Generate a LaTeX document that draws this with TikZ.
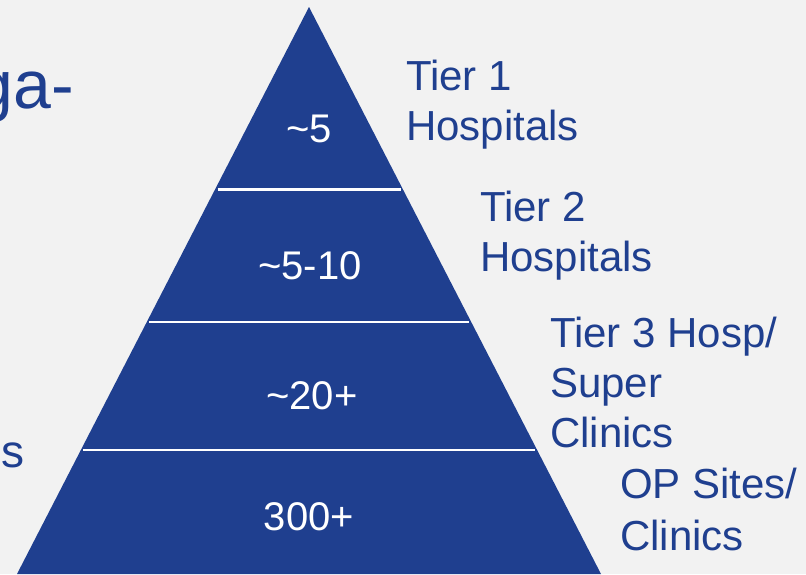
\documentclass[tikz,border=0pt]{standalone}
\usepackage{fontspec}
\setmainfont{Liberation Sans}
\definecolor{pyr}{HTML}{1F3F8F}
\definecolor{bg}{HTML}{F2F2F2}
\begin{document}
\begin{tikzpicture}[x=1pt,y=-1pt,
  lbl/.style={text=pyr, font=\fontsize{42}{50}\selectfont, inner sep=0pt, anchor=base west, align=left},
  num/.style={text=white, font=\fontsize{40}{46}\selectfont, inner sep=0pt, anchor=base},
  sepline/.style={draw=white, line width=2.5pt}]
\useasboundingbox (0,0) rectangle (806,574);
\clip (0,0) rectangle (806,574);
\fill[bg] (0,0) rectangle (806,574);
% pyramid
\coordinate (apex) at (309,7);
\coordinate (bl) at (17,574);
\coordinate (br) at (601,574);
\fill[pyr] (apex) -- (br) -- (bl) -- cycle;
% separators
\coordinate (s1l) at (217.5,189.5); \coordinate (s1r) at (400.5,189.5);
\coordinate (s2l) at (149,322);     \coordinate (s2r) at (469,322);
\coordinate (s3l) at (83,450);      \coordinate (s3r) at (535,450);
\draw[sepline] (s1l) -- (s1r);
\draw[sepline] (s2l) -- (s2r);
\draw[sepline] (s3l) -- (s3r);
% numbers
\node[num] (n1) at (309,142) {\char"007E 5};
\node[num] (n2) at (310,279) {\char"007E 5-10};
\node[num] (n3) at (312,409) {\char"007E 20+};
\node[num] (n4) at (309,530) {300+};
% labels (anchored on the baseline of their last line)
\node[lbl] (t1) at (406,140) {Tier 1\\Hospitals};
\node[lbl] (t2) at (480,271) {Tier 2\\Hospitals};
\node[lbl] (t3) at (550,447) {Tier 3 Hosp/\\Super\\Clinics};
\node[lbl, font=\fontsize{42}{52}\selectfont] (t4) at (620,550) {OP Sites/\\Clinics};
% cut-off slide text
\node[text=pyr, font=\fontsize{68}{80}\selectfont, inner sep=0pt, anchor=base east] (ga) at (74,108) {ga-};
\node[text=pyr, font=\fontsize{46}{54}\selectfont, inner sep=0pt, anchor=base west] (s) at (1.5,467) {s};
\end{tikzpicture}
\end{document}
